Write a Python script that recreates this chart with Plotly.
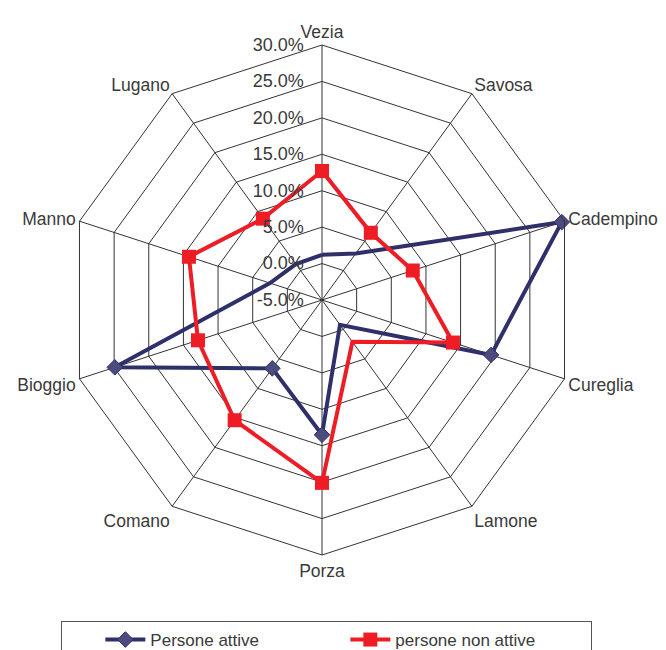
import plotly.graph_objects as go

categories = ["Vezia", "Savosa", "Cadempino", "Cureglia", "Lamone",
              "Porza", "Comano", "Bioggio", "Manno", "Lugano"]
persone_attive = [1.2, 2.9, 29.6, 19.4, -0.8, 13.5, 6.6, 24.9, 2.5, 1.1]
persone_non_attive = [12.7, 6.4, 8.1, 13.9, 2.1, 20.1, 15.4, 12.9, 14.2, 8.8]
tick_vals = [-5, 0, 5, 10, 15, 20, 25, 30]
tick_text = ["-5.0%", "0.0%", "5.0%", "10.0%", "15.0%", "20.0%", "25.0%", "30.0%"]

def closed(v):
    return list(v) + [v[0]]

W, H = 666, 650
OFF = 8  # page body margin
NB = "\u00a0"

fig = go.Figure()
fig.add_trace(go.Scatterpolar(
    r=closed(persone_attive), theta=closed(categories), name="Persone attive",
    mode="lines+markers",
    line=dict(color="#2F2F6A", width=4),
    marker=dict(symbol="diamond", size=12, color="#4B4B7D",
                line=dict(color="#2F2F6A", width=1)),
))
fig.add_trace(go.Scatterpolar(
    r=closed(persone_non_attive), theta=closed(categories), name="persone non attive",
    mode="lines+markers",
    line=dict(color="#EE1C25", width=4),
    marker=dict(symbol="square", size=14, color="#EE1C25"),
))

fig.update_layout(
    width=W, height=H,
    margin=dict(l=0, r=0, t=0, b=0, autoexpand=False),
    paper_bgcolor="white",
    font=dict(family="Liberation Sans, Arial, sans-serif", size=17, color="#3A3A3A"),
    polar=dict(
        domain=dict(x=[(67 - OFF) / W, (577 - OFF) / W],
                    y=[1 - (555 - OFF) / H, 1 - (45 - OFF) / H]),
        bgcolor="white",
        gridshape="linear",
        radialaxis=dict(
            range=[-5, 30], tickvals=tick_vals,
            ticktext=[t + NB * 3 for t in tick_text],
            angle=90, tickangle=90, side="counterclockwise",
            showline=False, gridcolor="#333333", gridwidth=1,
            ticks="", tickfont=dict(size=18, color="#3A3A3A"),
        ),
        angularaxis=dict(
            direction="clockwise", rotation=90,
            showline=True, linecolor="#333333", linewidth=1,
            gridcolor="#333333", gridwidth=1, ticks="",
            tickfont=dict(size=17.5, color="#3A3A3A"),
        ),
    ),
    showlegend=True,
    legend=dict(
        orientation="h", x=(61 - OFF) / W, xanchor="left",
        y=1 - (621 - OFF) / H, yanchor="top",
        bordercolor="#555555", borderwidth=1, entrywidth=190, itemwidth=40,
        font=dict(size=17, color="#3A3A3A"), tracegroupgap=0,
        title=dict(text=NB * 6, side="left", font=dict(size=17)),
    ),
)

fig.write_html("out.html")
